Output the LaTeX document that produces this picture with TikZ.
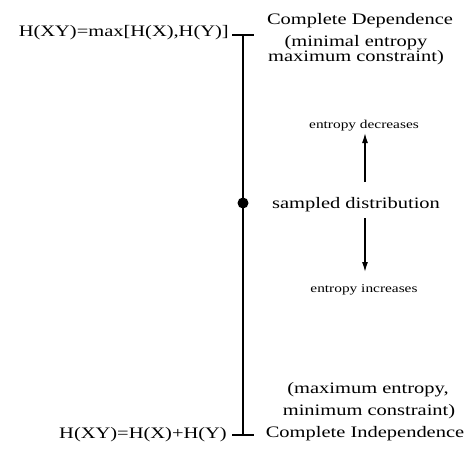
\documentclass[tikz,border=0pt]{standalone}
\usepackage{fontspec}
\usetikzlibrary{arrows.meta}
\setmainfont{Liberation Serif}[FakeStretch=1.28]
\begin{document}
\begin{tikzpicture}[x=1pt,y=-1pt,
  lbl/.style={inner sep=0pt,anchor=base,font=\fontsize{16}{16}\selectfont},
  sml/.style={inner sep=0pt,anchor=base,font=\fontsize{12}{12}\selectfont},
  ln/.style={line width=1.3pt},
  arr/.style={line width=1.3pt,-{Latex[length=10pt,width=6pt]}}]
\useasboundingbox (0,0) rectangle (467,451);
\coordinate (top) at (243,35);
\coordinate (bot) at (243,435);
\coordinate (tl) at (232,35);
\coordinate (tr) at (254,35);
\coordinate (bl) at (232,435);
\coordinate (br) at (254,435);
\draw[ln] (top) -- (bot);
\draw[ln] (tl) -- (tr);
\draw[ln] (bl) -- (br);
\node[circle,fill,inner sep=0pt,minimum size=11pt] (dot) at (243,203) {};
\node[lbl,anchor=base east] (hmax) at (229,36) {H(XY)=max[H(X),H(Y)]};
\node[lbl] (cd) at (360,24) {Complete Dependence};
\node[lbl] (mc1) at (356,46) {(minimal entropy};
\node[lbl] (mc2) at (356,61) {maximum constraint)};
\node[sml] (ed) at (364,128) {entropy decreases};
\node[lbl] (sd) at (356,208) {sampled distribution};
\node[sml] (ei) at (364,292) {entropy increases};
\node[lbl] (mm1) at (368,393) {(maximum entropy,};
\node[lbl] (mm2) at (369,415) {minimum constraint)};
\node[lbl,anchor=base east] (hsum) at (227,438) {H(XY)=H(X)+H(Y)};
\node[lbl] (ci) at (365,437) {Complete Independence};
\coordinate (ua) at (365,182);
\coordinate (ub) at (365,133);
\coordinate (da) at (365,218);
\coordinate (db) at (365,272);
\draw[arr] (ua) -- (ub);
\draw[arr] (da) -- (db);
\end{tikzpicture}
\end{document}
